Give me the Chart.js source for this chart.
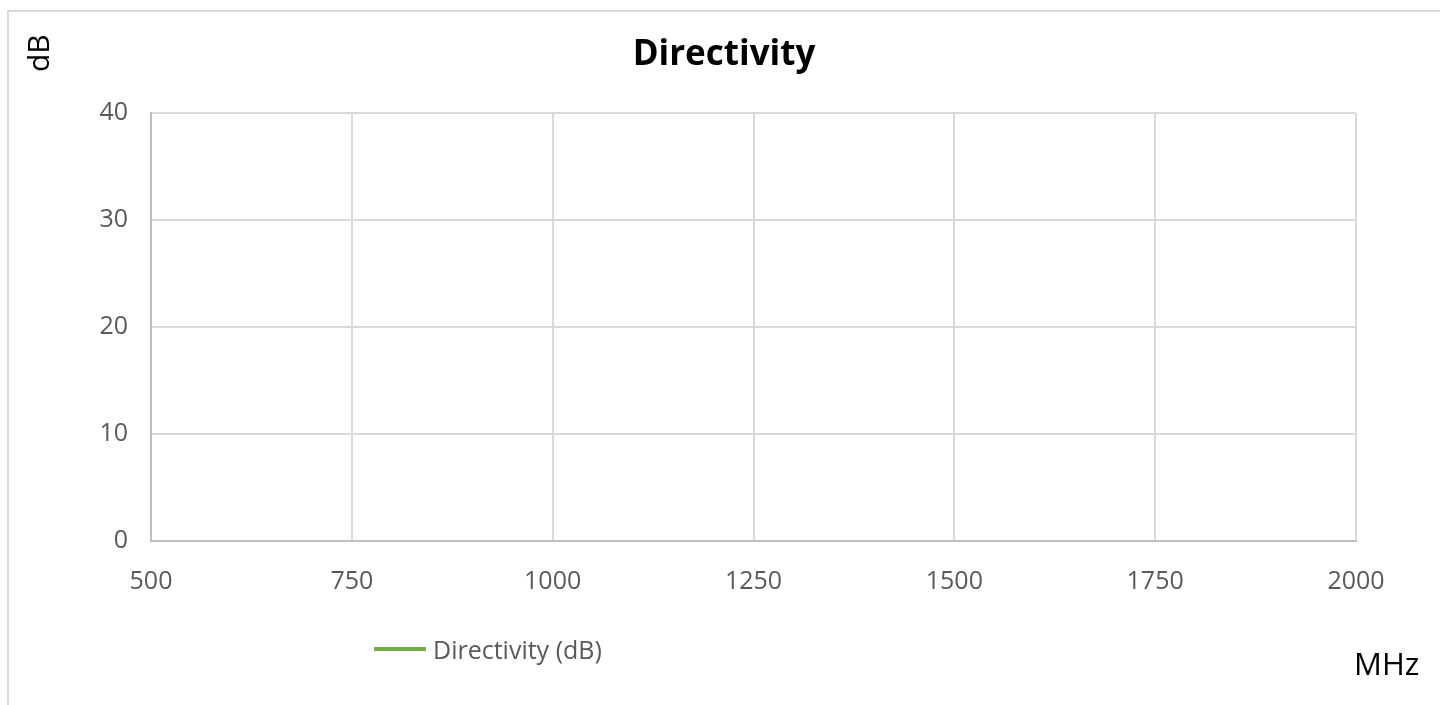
<!DOCTYPE html>
<html>
<head>
<meta charset="utf-8">
<script src="https://cdn.jsdelivr.net/npm/chart.js@4"></script>
<style>
  body { margin: 0; background: #fff; font-family: "Open Sans", sans-serif; }
  #wrap { position: relative; width: 1440px; height: 705px; overflow: hidden; }
  #frame { position: absolute; left: 7px; top: 10px; width: 1500px; height: 800px; border: 2px solid #d9d9d9; box-sizing: border-box; }
  #chart { position: absolute; left: 0; top: 0; }
  .lbl { position: absolute; color: #000; }
  #ylab { left: 20px; top: 72px; font-size: 30px; line-height: 36px; transform: rotate(-90deg); transform-origin: 0 0; }
  #xlab { left: 1354px; top: 643px; font-size: 31px; line-height: 40px; }
  #legend { position: absolute; left: 374px; top: 632px; display: flex; align-items: center; color: #595959; font-size: 25px; }
  #legend span.sw { display: inline-block; width: 52px; height: 4px; background: #70ad47; margin-right: 7px; }
</style>
</head>
<body>
<div id="wrap">
  <div id="frame"></div>
  <canvas id="chart" width="1440" height="705"></canvas>
  <div class="lbl" id="ylab">dB</div>
  <div class="lbl" id="xlab">MHz</div>
  <div id="legend"><span class="sw"></span><span>Directivity (dB)</span></div>
</div>
<script>
// Dados do gráfico
const seriesName = 'Directivity (dB)';
const frequencies = [];   // MHz - nenhuma amostra visível no gráfico
const directivity = [];   // dB
const xTicks = [500, 750, 1000, 1250, 1500, 1750, 2000];
const yTicks = [0, 10, 20, 30, 40];

const points = frequencies.map((f, i) => ({ x: f, y: directivity[i] }));

const ctx = document.getElementById('chart').getContext('2d');
const chart = new Chart(ctx, {
    type: 'line',
    data: {
        datasets: [{
            label: seriesName,
            data: points,
            borderColor: '#70ad47',
            borderWidth: 4,
            pointRadius: 0,
            fill: false
        }]
    },
    options: {
        responsive: false,
        animation: false,
        layout: { padding: { left: 92, right: 84, top: 18, bottom: 0 } },
        plugins: {
            legend: { display: false },
            tooltip: { enabled: false },
            title: {
                display: true,
                text: 'Directivity',
                color: '#000',
                font: { family: 'Open Sans', size: 35, weight: 'bold' },
                padding: { top: 16, bottom: 37 }
            }
        },
        scales: {
            x: {
                type: 'linear',
                min: xTicks[0],
                max: xTicks[xTicks.length - 1],
                afterBuildTicks: s => { s.ticks = xTicks.map(v => ({ value: v })); },
                afterFit: s => { s.height = 164; },
                grid: { color: '#d9d9d9', lineWidth: 2, drawTicks: false },
                border: { color: '#bfbfbf', width: 2 },
                ticks: {
                    color: '#595959',
                    padding: 26,
                    font: { family: 'Open Sans', size: 25 },
                    callback: v => String(v)
                }
            },
            y: {
                min: yTicks[0],
                max: yTicks[yTicks.length - 1],
                afterBuildTicks: s => { s.ticks = yTicks.map(v => ({ value: v })); },
                afterFit: s => { s.width = 59; },
                grid: { color: '#d9d9d9', lineWidth: 2, drawTicks: false },
                border: { color: '#bfbfbf', width: 2 },
                ticks: {
                    color: '#595959',
                    padding: 23,
                    font: { family: 'Open Sans', size: 25 },
                    callback: v => String(v)
                }
            }
        }
    }
});
</script>
</body>
</html>
